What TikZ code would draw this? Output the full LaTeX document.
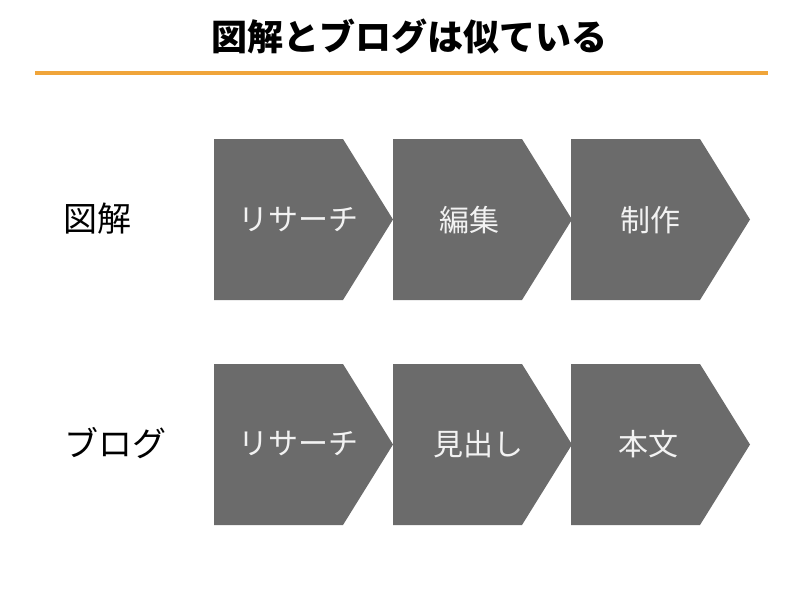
\documentclass[tikz,border=0pt]{standalone}
\usepackage{fontspec}
\setmainfont{Noto Sans CJK JP}
\definecolor{shapegray}{HTML}{6B6B6B}
\definecolor{labelwhite}{HTML}{F2F2F2}
\definecolor{accent}{HTML}{F0A53A}
\tikzset{
  chev/.style={fill=shapegray, draw=none},
  lbl/.style={text=labelwhite, inner sep=0pt, font=\fontsize{30}{36}\selectfont},
  rowlbl/.style={text=black, inner sep=0pt, font=\fontsize{34}{40}\selectfont},
  titlelbl/.style={text=black, inner sep=0pt, font=\fontsize{36}{42}\selectfont\bfseries},
  rule/.style={draw=accent, line width=4.5pt}
}
\begin{document}
\begin{tikzpicture}[x=1pt,y=-1pt]
\useasboundingbox (0,0) rectangle (800,602);
% title
\node[titlelbl] (title) at (409,37) {図解とブログは似ている};
\coordinate (ruleL) at (35,73);
\coordinate (ruleR) at (768,73);
\draw[rule] (ruleL) -- (ruleR);
% chevrons
\foreach \t in {139,364}{
  \foreach \x in {214,393,571}{
    \fill[chev] (\x,\t) -- (\x+129,\t) -- (\x+179,\t+80.5) -- (\x+129,\t+161) -- (\x,\t+161) -- cycle;
  }
}
% row labels
\node[rowlbl] (rowA) at (97,219) {図解};
\node[rowlbl] (rowB) at (115,443) {ブログ};
% step labels
\node[lbl] (a1) at (298,220) {リサーチ};
\node[lbl] (a2) at (469,220) {編集};
\node[lbl] (a3) at (650,220) {制作};
\node[lbl] (b1) at (298,444) {リサーチ};
\node[lbl] (b2) at (478,444) {見出し};
\node[lbl] (b3) at (648,444) {本文};
\end{tikzpicture}
\end{document}
